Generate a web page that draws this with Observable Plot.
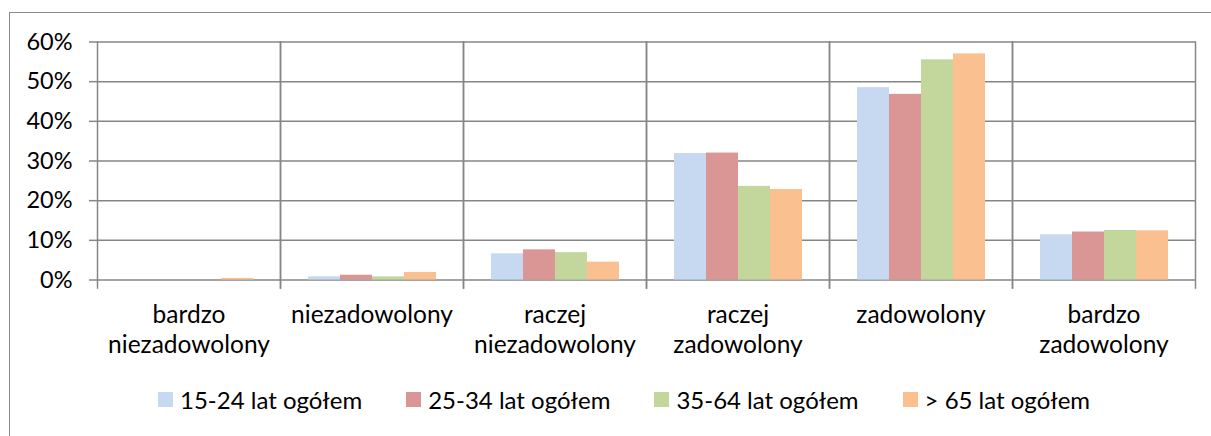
<!DOCTYPE html>
<html>
<head>
<meta charset="utf-8">
<script src="https://cdn.jsdelivr.net/npm/d3@7"></script>
<script src="https://cdn.jsdelivr.net/npm/@observablehq/plot@0.6"></script>
<style>
  html, body { margin: 0; padding: 0; background: white; }
  body { width: 1211px; height: 436px; overflow: hidden; position: relative; font-family: Lato, "Open Sans", sans-serif; }
  #border { position: absolute; left: 9px; top: 12px; right: -10px; bottom: -10px;
            border-left: 1.5px solid #8a8a8a; border-top: 1.5px solid #8a8a8a; }
  #chart { position: absolute; left: 0; top: 0; }
  #chart svg { background: transparent !important; overflow: visible; }
  #legend { position: absolute; left: 158px; top: 383px; }
  .lg-swatch { margin-right: 44px !important; font-size: 24px; color: #000; }
  .lg-swatch > svg { margin-right: 7px !important; }
</style>
</head>
<body>
<div id="border"></div>
<div id="chart"></div>
<div id="legend"></div>
<script>
const categories = ["bardzo niezadowolony", "niezadowolony", "raczej niezadowolony", "raczej zadowolony", "zadowolony", "bardzo zadowolony"];
const series = ["15-24 lat ogółem", "25-34 lat ogółem", "35-64 lat ogółem", "> 65 lat ogółem"];
const values1524 = [0, 0.8, 6.6, 31.9, 48.5, 11.4];
const values2534 = [0, 1.2, 7.6, 32.0, 46.8, 12.1];
const values3564 = [0, 0.8, 6.9, 23.6, 55.5, 12.5];
const values65 = [0.4, 1.9, 4.5, 22.8, 57.0, 12.4];
const yTicks = [0, 10, 20, 30, 40, 50, 60];
const colors = ["#C6D9F1", "#D99694", "#C3D69B", "#FAC090"];

const seriesValues = [values1524, values2534, values3564, values65];
const data = [];
categories.forEach((c, i) => {
  series.forEach((s, j) => data.push({category: c, series: s, value: seriesValues[j][i]}));
});

const gridColor = "#868686";
const labelBreaks = {
  "bardzo niezadowolony": "bardzo\nniezadowolony",
  "raczej niezadowolony": "raczej\nniezadowolony",
  "raczej zadowolony": "raczej\nzadowolony",
  "bardzo zadowolony": "bardzo\nzadowolony"
};

const chart = Plot.plot({
  width: 1211,
  height: 370,
  marginLeft: 97,
  marginRight: 16,
  marginTop: 41.5,
  marginBottom: 90.5,
  style: {fontFamily: "Lato, 'Open Sans', sans-serif", fontSize: "23px", background: "transparent", color: "black"},
  fx: {domain: categories, padding: 0, label: null},
  x: {domain: series, paddingInner: 0, paddingOuter: 0.78, axis: null},
  y: {domain: [0, 60], label: null},
  color: {domain: series, range: colors},
  marks: [
    Plot.gridY(yTicks, {stroke: gridColor, strokeOpacity: 1, strokeWidth: 1.5}),
    Plot.frame({anchor: "left", insetBottom: -8, stroke: gridColor, strokeWidth: 1.5}),
    Plot.frame({anchor: "right", insetBottom: -8, stroke: gridColor, strokeWidth: 1.5}),
    Plot.barY(data, {fx: "category", x: "series", y: "value", fill: "series"}),
    Plot.axisY({ticks: yTicks, tickFormat: d => d + "%", tickSize: 8, tickPadding: 17,
                stroke: gridColor, strokeWidth: 1.5, fill: "black", fontSize: 23.5}),
    Plot.axisFx({anchor: "bottom", tickSize: 0, tickPadding: 22, tickFormat: d => labelBreaks[d] || d,
                 fontSize: 24.5, lineHeight: 1.22, fill: "black", label: null})
  ]
});
document.getElementById("chart").appendChild(chart);

const legend = Plot.legend({
  color: {type: "ordinal", domain: series, range: colors},
  legend: "swatches",
  swatchSize: 15,
  className: "lg",
  style: {fontFamily: "Lato, 'Open Sans', sans-serif", fontSize: "24px", color: "black"}
});
document.getElementById("legend").appendChild(legend);
</script>
</body>
</html>
